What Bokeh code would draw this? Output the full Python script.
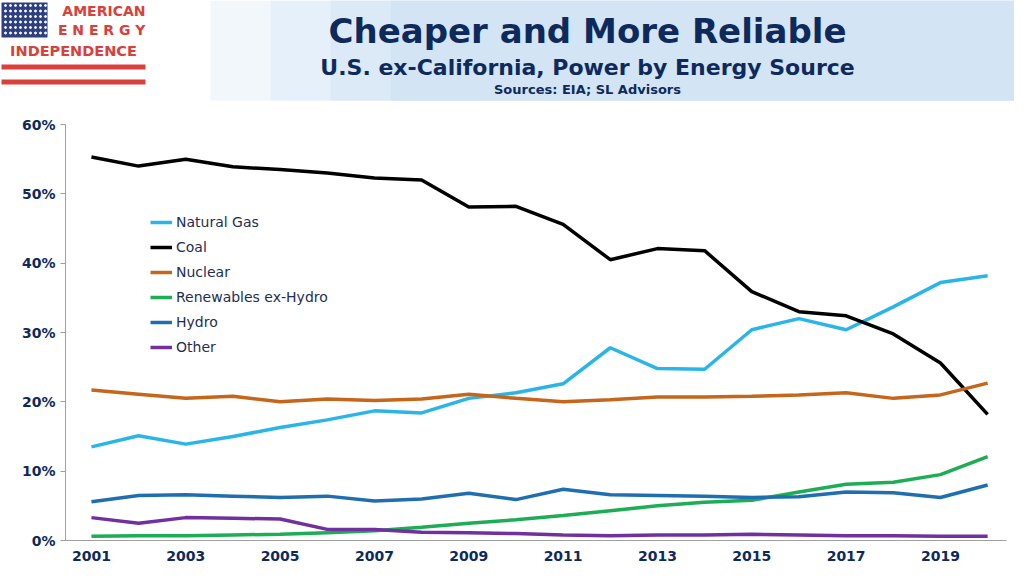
from bokeh.plotting import figure
from bokeh.layouts import column
from bokeh.models import Range1d, FixedTicker, CustomJSTickFormatter, Legend, LegendItem
from bokeh.core.properties import value
from bokeh.embed import file_html
from bokeh.resources import INLINE

years = list(range(2001, 2021))
gas = [13.5,15.1,13.9,15.0,16.3,17.4,18.7,18.4,20.5,21.3,22.6,27.8,24.8,24.7,30.4,32.0,30.4,33.7,37.2,38.2]
coal = [55.3,54.0,55.0,53.9,53.5,53.0,52.3,52.0,48.1,48.2,45.6,40.5,42.1,41.8,35.9,33.0,32.4,29.8,25.6,18.2]
nuclear = [21.7,21.1,20.5,20.8,20.0,20.4,20.2,20.4,21.1,20.5,20.0,20.3,20.7,20.7,20.8,21.0,21.3,20.5,21.0,22.7]
renew = [0.6,0.7,0.7,0.8,0.9,1.1,1.4,1.9,2.5,3.0,3.6,4.3,5.0,5.5,5.8,7.0,8.1,8.4,9.5,12.1]
hydro = [5.6,6.5,6.6,6.4,6.2,6.4,5.7,6.0,6.8,5.9,7.4,6.6,6.5,6.4,6.2,6.3,7.0,6.9,6.2,8.0]
other = [3.3,2.5,3.3,3.2,3.1,1.6,1.6,1.2,1.1,1.0,0.8,0.7,0.8,0.8,0.9,0.8,0.7,0.7,0.6,0.6]
series = [("Natural Gas", gas, "#29B5E8"), ("Coal", coal, "#000000"), ("Nuclear", nuclear, "#C5661B"),
          ("Renewables ex-Hydro", renew, "#1DAE55"), ("Hydro", hydro, "#1F6FB0"), ("Other", other, "#7030A0")]
xticks = list(range(2001, 2021, 2))
yticks = [0, 10, 20, 30, 40, 50, 60]
title = "Cheaper and More Reliable"
subtitle = "U.S. ex-California, Power by Energy Source"
sources = "Sources: EIA; SL Advisors"
navy = "#0E2A5C"
F = value("DejaVu Sans")

# header
h = figure(width=1014, height=105, x_range=Range1d(0, 1014), y_range=Range1d(105, 0),
           output_backend="svg", toolbar_location=None, x_axis_location=None, y_axis_location=None,
           min_border_left=0, min_border_right=0, min_border_top=0, min_border_bottom=0)
h.grid.visible = False
h.outline_line_color = None
h.background_fill_color = "white"
for i, c in enumerate(["#FFFFFF", "#F2F7FC", "#E6F0FA", "#DCEAF7", "#D3E5F5"]):
    h.quad(left=150 + i * 60, right=1014, top=0, bottom=100, fill_color=c, line_color=None)
h.quad(left=0, right=150, top=0, bottom=100, fill_color="white", line_color=None)
h.quad(left=1, right=47, top=2, bottom=37, fill_color="#2E3F7F", line_color=None)
sx = [5 + 5 * i for i in range(9) for j in range(6)]
sy = [5 + 5.5 * j for i in range(9) for j in range(6)]
h.scatter(sx, sy, size=2, color="white")
red = "#D9403A"
h.text(x=[145], y=[10], text=["AMERICAN"], text_font=F, text_font_size="14px", text_font_style="bold",
       text_color=red, text_align="right", text_baseline="middle")
h.text(x=[145], y=[29], text=["E N E R G Y"], text_font=F, text_font_size="14px", text_font_style="bold",
       text_color=red, text_align="right", text_baseline="middle")
h.text(x=[73], y=[50], text=["INDEPENDENCE"], text_font=F, text_font_size="14.5px", text_font_style="bold",
       text_color=red, text_align="center", text_baseline="middle")
h.quad(left=1, right=145, top=64, bottom=69, fill_color=red, line_color=None)
h.quad(left=1, right=145, top=79, bottom=84, fill_color=red, line_color=None)
h.text(x=[587], y=[30], text=[title], text_font=F, text_font_size="34px", text_font_style="bold",
       text_color=navy, text_align="center", text_baseline="middle")
h.text(x=[587], y=[67], text=[subtitle], text_font=F, text_font_size="22px", text_font_style="bold",
       text_color=navy, text_align="center", text_baseline="middle")
h.text(x=[587], y=[89], text=[sources], text_font=F, text_font_size="13px", text_font_style="bold",
       text_color=navy, text_align="center", text_baseline="middle")

# chart
p = figure(width=1014, height=458, x_range=Range1d(2000.45, 2020.4), y_range=Range1d(0, 60),
           output_backend="svg", toolbar_location=None,
           min_border_left=65, min_border_right=8, min_border_top=19, min_border_bottom=23)
p.grid.visible = False
p.outline_line_color = None
items = []
for name, vals, col in series:
    r = p.line(years, vals, line_color=col, line_width=3.5)
    items.append(LegendItem(label=name, renderers=[r]))
leg = Legend(items=items, location=(85, 183), label_text_font="DejaVu Sans", label_text_font_size="14px",
             label_text_color="#1F2D4F", glyph_width=22, glyph_height=20, spacing=5, padding=0,
             border_line_color=None, background_fill_alpha=0, label_standoff=4)
p.add_layout(leg, "center")
p.xaxis.ticker = FixedTicker(ticks=xticks)
p.yaxis.ticker = FixedTicker(ticks=yticks)
p.yaxis.formatter = CustomJSTickFormatter(code="return tick + '%';")
for ax in (p.xaxis, p.yaxis):
    ax.major_label_text_font = "DejaVu Sans"
    ax.major_label_text_font_size = "14px"
    ax.major_label_text_font_style = "bold"
    ax.major_label_text_color = navy
    ax.axis_line_color = "#A0A0A0"
    ax.major_tick_line_color = "#A0A0A0"
    ax.minor_tick_line_color = None
    ax.major_tick_in = 0
    ax.major_tick_out = 5
p.xaxis.major_tick_line_color = None

for fig in (h, p):
    try:
        fig.frame_align = False
    except Exception:
        pass

open("out.html", "w").write(file_html(column(h, p, spacing=0), INLINE))
